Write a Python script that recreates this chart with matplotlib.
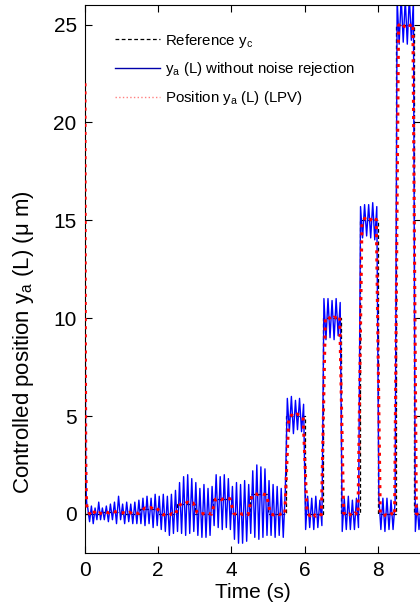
import numpy as np
import matplotlib
matplotlib.use("Agg")
import matplotlib.pyplot as plt
from matplotlib.lines import Line2D

plt.rcParams["font.family"] = ["Liberation Sans", "DejaVu Sans"]
plt.rcParams["mathtext.fontset"] = "custom"
plt.rcParams["mathtext.rm"] = "Liberation Sans"
plt.rcParams["mathtext.it"] = "Liberation Sans:italic"

# segment boundaries (s) and reference levels (um)
seg_edges = [0.0, 0.5, 1.0, 1.5, 2.0, 2.5, 3.0, 3.5, 4.0, 4.5, 5.0,
             5.5, 6.0, 6.5, 7.0, 7.5, 8.0, 8.5, 9.0, 9.2]
ref_levels = [0, 0.1, 0, 0.25, 0, 0.5, 0, 0.75, 0, 1.0, 0,
              5, 0, 10, 0, 15, 0, 25, 0]

# initial transient (both controlled outputs)
start_t = [0.0, 0.008, 0.02, 0.035, 0.05]
blue_start = [21.5, 9.0, 2.5, 0.9, 0.5]
lpv_start = [22.0, 10.0, 3.0, 1.0, 0.4]

# y_a (L) without noise rejection: peaks / troughs read per segment
blue_segs = [
    [0.3, -0.4, 0.4, -0.5, 0.3, -0.3, 0.6, -0.3, 0.3],
    [-0.3, 0.4, -0.4, 0.5, -0.3, 0.6, -0.5, 0.9, -0.3],
    [0.5, -0.5, 0.6, -0.4, 0.5, -0.5, 0.6, -0.5, 0.7],
    [-0.5, 0.8, -0.6, 0.9, -0.5, 0.8, -0.7, 1.0, -0.6],
    [0.9, -0.8, 1.0, -0.9, 0.9, -1.1, 1.0, -1.0, 1.2],
    [-0.9, 1.6, -1.0, 1.9, -1.1, 2.0, -1.0, 1.8, -0.9],
    [1.6, -1.1, 1.3, -1.2, 1.5, -1.2, 1.3, -1.1, 1.4],
    [-0.6, 2.0, -0.7, 1.9, -0.8, 2.0, -0.7, 1.8, -0.8],
    [1.4, -1.3, 1.6, -1.5, 1.5, -1.5, 1.7, -1.4, 1.5],
    [-1.0, 2.2, -1.2, 2.5, -1.3, 2.4, -1.2, 2.3, -1.1],
    [1.7, -1.1, 1.5, -1.2, 1.4, -1.1, 1.3, -1.2, 1.2],
    [5.9, 4.2, 6.0, 4.1, 5.8, 4.3, 5.9, 4.2, 5.6],
    [-0.8, 0.9, -0.7, 0.8, -0.8, 0.9, -0.7, 0.7, -0.6],
    [11.0, 8.9, 11.0, 9.0, 10.9, 8.9, 11.0, 9.1, 10.8],
    [-0.9, 0.8, -0.8, 0.9, -0.8, 0.7, -0.8, 0.8, -0.7],
    [15.7, 14.1, 15.8, 14.2, 15.8, 14.1, 15.9, 14.0, 15.7],
    [0.9, -0.8, 0.8, -0.9, 0.8, -0.8, 0.7, -0.8, 0.6],
    [26.3, 24.0, 26.4, 24.1, 26.3, 24.0, 26.4, 24.2, 26.2],
    [-0.9, 0.5, -0.8, 0.4],
]

# LPV position: small ripple around each level
lpv_segs = [
    [0.05, -0.1, 0.1, -0.05, 0.05, 0.0],
    [0.1, 0.05, 0.15, 0.1, 0.12, 0.08],
    [0.05, 0.0, 0.08, -0.02, 0.05, 0.02],
    [0.2, 0.3, 0.25, 0.32, 0.22, 0.3],
    [0.05, -0.05, 0.0, -0.08, 0.02, -0.05],
    [0.4, 0.55, 0.5, 0.6, 0.5, 0.55],
    [0.05, -0.05, 0.02, -0.05, 0.03, -0.02],
    [0.75, 0.8, 0.72, 0.8, 0.76, 0.78],
    [0.02, -0.05, 0.05, -0.03, 0.02, -0.04],
    [0.95, 1.05, 0.98, 1.05, 1.0, 0.98],
    [0.0, -0.05, 0.03, -0.04, 0.02, -0.02],
    [4.9, 5.05, 4.95, 5.1, 5.0, 4.95],
    [0.05, -0.1, 0.05, -0.12, 0.02, -0.05],
    [9.95, 10.1, 9.9, 10.05, 10.0, 10.1],
    [0.05, -0.1, 0.0, -0.12, 0.05, -0.05],
    [14.9, 15.1, 14.95, 15.05, 14.9, 15.05],
    [0.05, -0.1, -0.05, -0.12, 0.02, -0.08],
    [24.95, 25.1, 24.9, 25.05, 24.95, 25.05],
    [0.02, -0.05, 0.0],
]


def seg_curve(segs, t_head, y_head, t_pad):
    ts, ys = list(t_head), list(y_head)
    for i, vals in enumerate(segs):
        a, b = seg_edges[i], seg_edges[i + 1]
        if i == 0:
            a = t_head[-1]
        tt = np.linspace(a + t_pad, b, len(vals) + 1)[1:] - (b - a) / (2 * len(vals))
        ts.extend(tt)
        ys.extend(vals)
    return ts, ys


bt, by = seg_curve(blue_segs, start_t, blue_start, 0.0)
lt, ly = seg_curve(lpv_segs, start_t, lpv_start, 0.03)

fig = plt.figure(figsize=(4.2, 6.07), dpi=100)
ax = fig.add_axes([85 / 420, 1 - 553 / 607, 336 / 420, 548 / 607])

ax.plot(bt, by, color="#0000ff", linewidth=1.0, zorder=2)
ax.plot(lt, ly, color="#ff0000", linestyle=":", linewidth=2.2, zorder=3)
ax.step(seg_edges, ref_levels + [0], where="post", color="black",
        linestyle=(0, (3, 2)), linewidth=0.9, zorder=1)

ax.set_xlim(0, 9.18)
ax.set_ylim(-2, 26)
ax.set_xticks([0, 2, 4, 6, 8])
ax.set_yticks([0, 5, 10, 15, 20, 25])
ax.tick_params(direction="in", top=True, right=True, length=5,
               labelsize=15, pad=6)
ax.set_xlabel("Time (s)", fontsize=15, labelpad=2)
ax.set_ylabel("Controlled position y$_{\\mathrm{a}}$ (L) (μ m)", fontsize=16)
ax.yaxis.set_label_coords(-0.145, 0.385)

handles = [
    Line2D([], [], color="black", linestyle=(0, (3, 2)), linewidth=0.9),
    Line2D([], [], color="#0000aa", linewidth=1.0),
    Line2D([], [], color="#ff8080", linestyle=":", linewidth=1.0),
]
labels = ["Reference y$_{\\mathrm{c}}$",
          "y$_{\\mathrm{a}}$ (L) without noise rejection",
          "Position y$_{\\mathrm{a}}$ (L) (LPV)"]
ax.legend(handles, labels, loc="upper left", bbox_to_anchor=(0.048, 0.976),
          frameon=False, fontsize=10.8, handlelength=3.0, handletextpad=0.33,
          labelspacing=0.72)

fig.savefig("out.png", dpi=100)
